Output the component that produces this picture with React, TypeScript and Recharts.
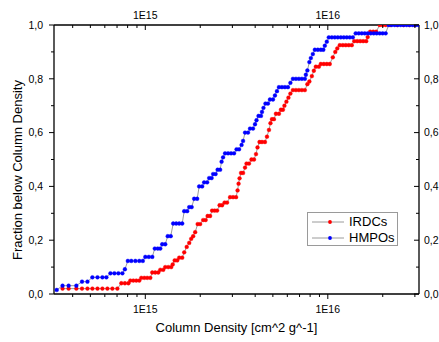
import { LineChart, Line, XAxis, YAxis, Legend } from 'recharts'

// Cumulative distributions of column density for IRDCs and HMPOs.
// Values (density in cm^-2 g^-1 units, fraction 0..1).

const W = 439
const H = 342
const FONT = '"Liberation Sans", Arial, sans-serif'

const X_MIN = 3.16e14
const X_MAX = 3.16e16

const irdcCdf: [number, number][] = [
  [3.52e14, 0.02], [3.8e14, 0.02], [4.19e14, 0.02], [4.5e14, 0.02], [4.82e14, 0.02], [5.13e14, 0.02],
  [5.47e14, 0.02], [5.82e14, 0.02], [6.2e14, 0.02], [6.6e14, 0.02], [7.03e14, 0.02],
  [7.39e14, 0.04], [7.73e14, 0.04], [8.08e14, 0.04],
  [8.28e14, 0.05], [8.6e14, 0.05], [8.93e14, 0.05], [9.27e14, 0.05],
  [9.51e14, 0.06], [9.88e14, 0.06], [1.025e15, 0.06], [1.065e15, 0.06],
  [1.092e15, 0.08], [1.134e15, 0.08], [1.178e15, 0.08],
  [1.208e15, 0.09], [1.254e15, 0.09],
  [1.286e15, 0.1], [1.336e15, 0.1], [1.387e15, 0.1],
  [1.413e15, 0.11],
  [1.449e15, 0.125], [1.496e15, 0.125],
  [1.534e15, 0.135], [1.593e15, 0.135],
  [1.634e15, 0.155], [1.686e15, 0.175], [1.74e15, 0.19], [1.784e15, 0.205], [1.829e15, 0.215], [1.876e15, 0.23],
  [1.936e15, 0.26], [1.998e15, 0.26],
  [2.075e15, 0.275], [2.141e15, 0.275],
  [2.195e15, 0.29], [2.265e15, 0.29],
  [2.323e15, 0.31], [2.398e15, 0.31], [2.474e15, 0.31],
  [2.553e15, 0.33], [2.635e15, 0.33],
  [2.719e15, 0.34], [2.806e15, 0.34],
  [2.914e15, 0.36], [3.026e15, 0.36], [3.143e15, 0.36],
  [3.203e15, 0.385], [3.244e15, 0.41], [3.285e15, 0.43],
  [3.347e15, 0.45], [3.433e15, 0.45],
  [3.52e15, 0.47],
  [3.586e15, 0.485], [3.7e15, 0.485],
  [3.819e15, 0.5], [3.941e15, 0.5],
  [4.042e15, 0.52], [4.119e15, 0.545],
  [4.224e15, 0.565], [4.358e15, 0.565], [4.525e15, 0.565],
  [4.642e15, 0.585], [4.76e15, 0.61], [4.851e15, 0.635],
  [4.943e15, 0.65], [5.069e15, 0.65],
  [5.198e15, 0.67], [5.399e15, 0.67],
  [5.536e15, 0.685], [5.677e15, 0.685],
  [5.785e15, 0.7], [5.932e15, 0.715], [6.084e15, 0.73], [6.238e15, 0.745],
  [6.44e15, 0.758], [6.687e15, 0.758], [6.943e15, 0.758], [7.21e15, 0.758], [7.487e15, 0.758],
  [7.727e15, 0.78], [7.924e15, 0.79], [8.177e15, 0.81], [8.385e15, 0.83],
  [8.597e15, 0.845], [8.929e15, 0.845],
  [9.157e15, 0.855], [9.508e15, 0.855], [9.874e15, 0.855], [1.025e16, 0.855],
  [1.065e16, 0.88], [1.099e16, 0.9], [1.127e16, 0.913],
  [1.163e16, 0.925], [1.208e16, 0.925], [1.254e16, 0.925], [1.302e16, 0.925], [1.353e16, 0.925],
  [1.396e16, 0.94], [1.45e16, 0.94], [1.505e16, 0.94], [1.563e16, 0.94], [1.623e16, 0.94],
  [1.654e16, 0.955],
  [1.707e16, 0.975], [1.773e16, 0.975], [1.841e16, 0.975],
  [1.924e16, 1], [1.997e16, 1], [2.075e16, 1], [2.2e16, 1], [2.4e16, 1], [2.6e16, 1], [2.8e16, 1], [3.0e16, 1],
]

const hmpoCdf: [number, number][] = [
  [3.27e14, 0.015],
  [3.52e14, 0.031], [3.8e14, 0.031], [4.19e14, 0.031],
  [4.5e14, 0.046], [4.82e14, 0.046],
  [5.13e14, 0.062], [5.47e14, 0.062], [5.82e14, 0.062], [6.12e14, 0.062],
  [6.44e14, 0.077], [6.77e14, 0.077], [7.12e14, 0.077], [7.49e14, 0.077],
  [7.73e14, 0.092],
  [8.02e14, 0.123], [8.38e14, 0.123], [8.82e14, 0.123], [9.27e14, 0.123], [9.69e14, 0.123],
  [1.0e15, 0.138], [1.045e15, 0.138], [1.092e15, 0.138],
  [1.127e15, 0.169], [1.17e15, 0.169], [1.208e15, 0.169],
  [1.238e15, 0.185], [1.286e15, 0.185],
  [1.327e15, 0.215], [1.378e15, 0.215],
  [1.422e15, 0.262], [1.477e15, 0.262], [1.534e15, 0.262], [1.593e15, 0.262],
  [1.634e15, 0.308], [1.696e15, 0.308],
  [1.74e15, 0.323], [1.795e15, 0.323],
  [1.852e15, 0.354], [1.924e15, 0.354],
  [1.973e15, 0.4], [2.049e15, 0.4],
  [2.101e15, 0.415], [2.182e15, 0.415],
  [2.238e15, 0.431], [2.309e15, 0.431],
  [2.353e15, 0.446], [2.428e15, 0.446],
  [2.49e15, 0.462], [2.57e15, 0.462],
  [2.618e15, 0.492], [2.668e15, 0.508],
  [2.736e15, 0.523], [2.841e15, 0.523], [2.951e15, 0.523], [3.064e15, 0.523],
  [3.162e15, 0.538], [3.264e15, 0.538],
  [3.369e15, 0.554], [3.433e15, 0.569],
  [3.52e15, 0.6], [3.655e15, 0.6],
  [3.748e15, 0.615], [3.892e15, 0.615],
  [3.991e15, 0.631], [4.067e15, 0.646],
  [4.171e15, 0.662], [4.304e15, 0.662],
  [4.358e15, 0.677], [4.441e15, 0.692],
  [4.554e15, 0.708], [4.7e15, 0.708],
  [4.82e15, 0.723], [5.006e15, 0.723],
  [5.133e15, 0.738], [5.264e15, 0.754],
  [5.399e15, 0.769], [5.606e15, 0.769], [5.821e15, 0.769], [6.045e15, 0.769],
  [6.238e15, 0.785],
  [6.44e15, 0.8], [6.687e15, 0.8], [6.943e15, 0.8], [7.21e15, 0.8], [7.487e15, 0.8],
  [7.582e15, 0.815], [7.727e15, 0.831], [7.924e15, 0.862], [8.074e15, 0.877], [8.279e15, 0.892],
  [8.492e15, 0.908], [8.818e15, 0.908], [9.157e15, 0.908], [9.45e15, 0.908],
  [9.63e15, 0.923], [9.874e15, 0.938],
  [1.013e16, 0.954], [1.052e16, 0.954], [1.092e16, 0.954], [1.134e16, 0.954], [1.178e16, 0.954],
  [1.223e16, 0.954], [1.27e16, 0.954], [1.319e16, 0.954], [1.37e16, 0.954],
  [1.422e16, 0.969], [1.477e16, 0.969], [1.534e16, 0.969], [1.593e16, 0.969], [1.654e16, 0.969],
  [1.718e16, 0.969], [1.784e16, 0.969], [1.852e16, 0.969], [1.924e16, 0.969], [1.997e16, 0.969],
  [2.075e16, 0.969],
  [2.154e16, 1], [2.237e16, 1], [2.323e16, 1], [2.413e16, 1], [2.506e16, 1], [2.602e16, 1],
  [2.702e16, 1], [2.806e16, 1], [2.914e16, 1], [3.026e16, 1], [3.143e16, 1],
]

const xMajor = [1e15, 1e16]
const xMinor = [
  4e14, 5e14, 6e14, 7e14, 8e14, 9e14,
  2e15, 3e15, 4e15, 5e15, 6e15, 7e15, 8e15, 9e15,
  2e16, 3e16,
]
const yTicks = [0, 0.1, 0.2, 0.3, 0.4, 0.5, 0.6, 0.7, 0.8, 0.9, 1]

const irdcPoints = irdcCdf.map(([x, y]) => ({ x, y }))
const hmpoPoints = hmpoCdf.map(([x, y]) => ({ x, y }))

const isMajorY = (v: number) => Math.round(v * 10) % 2 === 0
const fmtX = (v: number) => '1E' + Math.round(Math.log10(v))
const fmtY = (v: number) => v.toFixed(1).replace('.', ',')

const textStyle = { fontFamily: FONT, fontSize: 10.5, fill: '#000' }

function XTick(props: any) {
  const { x, y, payload, side } = props
  const major = xMajor.includes(payload.value)
  const len = major ? 5 : 3
  return (
    <g>
      <line x1={x} x2={x} y1={y} y2={y + len} stroke="#000" strokeWidth={1} />
      {major && (
        <text x={x} y={side === 'top' ? y - 6 : y + 18.5} textAnchor="middle" {...textStyle}>
          {fmtX(payload.value)}
        </text>
      )}
    </g>
  )
}

function YTick(props: any) {
  const { x, y, payload, side } = props
  const major = isMajorY(payload.value)
  const len = major ? 5 : 3
  const left = side === 'left'
  return (
    <g>
      <line x1={x} x2={left ? x - len : x - len} y1={y} y2={y} stroke="#000" strokeWidth={1} />
      {major && (
        <text
          x={left ? x - 11 : x + 5}
          y={y + 3.8}
          textAnchor={left ? 'end' : 'start'}
          {...textStyle}
        >
          {fmtY(payload.value)}
        </text>
      )}
    </g>
  )
}

function LegendBox() {
  const row = (color: string, name: string) => (
    <div style={{ display: 'flex', alignItems: 'center', height: 16 }}>
      <svg width={36} height={8} style={{ marginLeft: 3 }}>
        <line x1={1} x2={33} y1={4} y2={4} stroke="#808080" strokeWidth={0.8} />
        <circle cx={19} cy={4} r={1.9} fill={color} />
      </svg>
      <span style={{ marginLeft: 2 }}>{name}</span>
    </div>
  )
  return (
    <div
      style={{
        width: 91,
        height: 34,
        boxSizing: 'border-box',
        border: '1px solid #9a9a9a',
        background: '#fff',
        fontFamily: FONT,
        fontSize: 13,
        lineHeight: '16px',
        color: '#000',
        paddingTop: 1,
      }}
    >
      {row('#ff0000', 'IRDCs')}
      {row('#0000ff', 'HMPOs')}
    </div>
  )
}

const axisLine = { stroke: '#000', strokeWidth: 1.3 }

export default function App() {
  return (
    <div style={{ position: 'absolute', left: 0, top: 0, width: W, height: H, background: '#fff' }}>
      <LineChart width={W} height={H} margin={{ top: 0, right: 0, bottom: 0, left: 0 }}>
        <XAxis
          xAxisId="b"
          dataKey="x"
          type="number"
          scale="log"
          domain={[X_MIN, X_MAX]}
          allowDataOverflow
          ticks={[...xMajor, ...xMinor]}
          interval={0}
          height={48}
          tickSize={0}
          tickMargin={0}
          axisLine={axisLine}
          tickLine={false}
          tick={<XTick side="bottom" />}
          label={() => (
            <text x={236.5} y={332} textAnchor="middle" fontFamily={FONT} fontSize={13} fill="#000">
              Column Density [cm^2 g^-1]
            </text>
          )}
        />
        <XAxis
          xAxisId="t"
          orientation="top"
          dataKey="x"
          type="number"
          scale="log"
          domain={[X_MIN, X_MAX]}
          allowDataOverflow
          ticks={[...xMajor, ...xMinor]}
          interval={0}
          height={25}
          tickSize={0}
          tickMargin={0}
          axisLine={axisLine}
          tickLine={false}
          tick={<XTick side="top" />}
        />
        <YAxis
          yAxisId="l"
          type="number"
          domain={[0, 1]}
          allowDataOverflow
          ticks={yTicks}
          interval={0}
          width={54}
          tickSize={0}
          tickMargin={0}
          axisLine={axisLine}
          tickLine={false}
          tick={<YTick side="left" />}
          label={() => (
            <text
              x={21.5}
              y={170}
              transform="rotate(-90 21.5 170)"
              textAnchor="middle"
              fontFamily={FONT}
              fontSize={13}
              fill="#000"
            >
              Fraction below Column Density
            </text>
          )}
        />
        <YAxis
          yAxisId="r"
          orientation="right"
          type="number"
          domain={[0, 1]}
          allowDataOverflow
          ticks={yTicks}
          interval={0}
          width={20}
          tickSize={0}
          tickMargin={0}
          axisLine={axisLine}
          tickLine={false}
          tick={<YTick side="right" />}
        />
        <Line
          xAxisId="b"
          yAxisId="l"
          data={irdcPoints}
          dataKey="y"
          name="IRDCs"
          type="linear"
          stroke="#808080"
          strokeWidth={0.8}
          dot={{ r: 1.9, fill: '#ff0000', stroke: '#ff0000', strokeWidth: 0.4 }}
          activeDot={false}
          isAnimationActive={false}
        />
        <Line
          xAxisId="b"
          yAxisId="l"
          data={hmpoPoints}
          dataKey="y"
          name="HMPOs"
          type="linear"
          stroke="#808080"
          strokeWidth={0.8}
          dot={{ r: 1.9, fill: '#0000ff', stroke: '#0000ff', strokeWidth: 0.4 }}
          activeDot={false}
          isAnimationActive={false}
        />
        <Legend
          layout="horizontal"
          verticalAlign="middle"
          align="center"
          content={() => <LegendBox />}
          wrapperStyle={{ position: 'absolute', left: 307, top: 212, width: 91, height: 34 }}
        />
      </LineChart>
    </div>
  )
}
